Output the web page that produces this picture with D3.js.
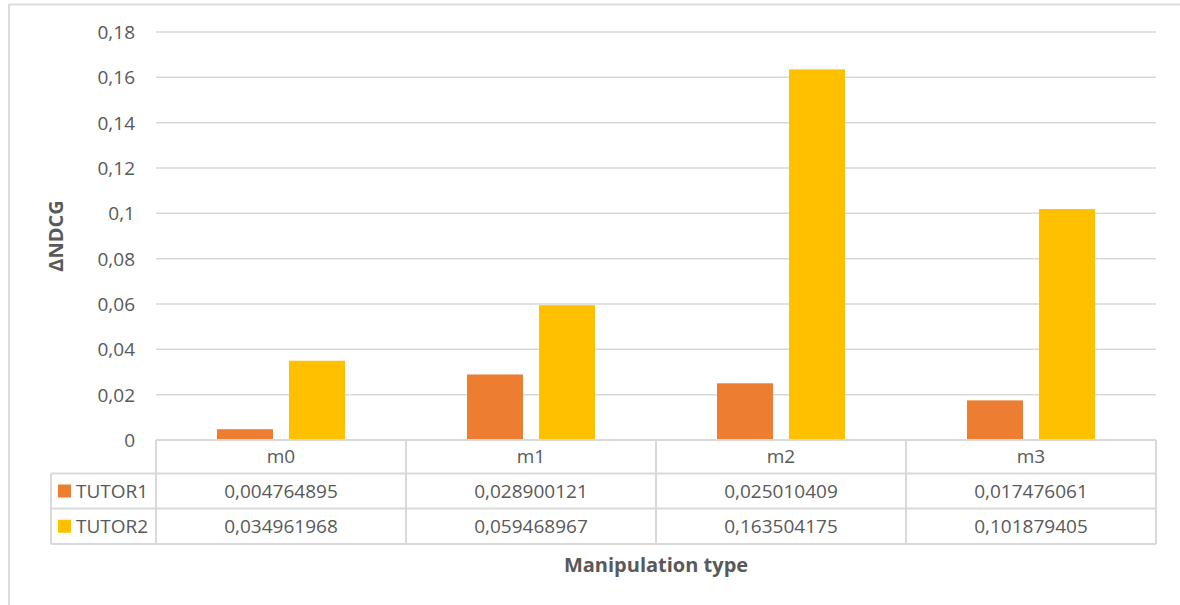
<!DOCTYPE html>
<html>
<head>
<meta charset="utf-8">
<script src="https://cdn.jsdelivr.net/npm/d3@7"></script>
<style>
  html, body { margin: 0; padding: 0; background: #fff; }
  svg { display: block; font-family: "Open Sans", "Liberation Sans", sans-serif; }
</style>
</head>
<body>
<svg id="chart" width="1180" height="605"></svg>
<script>
// Manipulation types on the x axis
const categories = ["m0", "m1", "m2", "m3"];
// Series names and their ΔNDCG values per manipulation type
const seriesNames = ["TUTOR1", "TUTOR2"];
const tutor1 = [0.004764895, 0.028900121, 0.025010409, 0.017476061];
const tutor2 = [0.034961968, 0.059468967, 0.163504175, 0.101879405];
const seriesValues = [tutor1, tutor2];
const seriesColors = ["#ED7D31", "#FFC000"];
const yTicks = [0, 0.02, 0.04, 0.06, 0.08, 0.1, 0.12, 0.14, 0.16, 0.18];
const yTitle = "ΔNDCG";
const xTitle = "Manipulation type";

const svg = d3.select("#chart");
const textColor = "#595959";
const gridColor = "#d9d9d9";

const plot = { left: 156, right: 1156, top: 32, bottom: 440 };
const tableLeft = 51;
const rowEdges = [440, 473.5, 508.5, 544];

// Outer chart frame (left and top edges visible)
svg.append("path")
  .attr("d", `M9,605 V4.5 H1180`)
  .attr("fill", "none")
  .attr("stroke", "#dcdcdc")
  .attr("stroke-width", 2);

const y = d3.scaleLinear().domain([0, 0.18]).range([plot.bottom, plot.top]);
const x0 = d3.scaleBand().domain(categories).range([plot.left, plot.right]).padding(0);
const x1 = d3.scaleBand().domain(seriesNames)
  .range([61, x0.bandwidth() - 61])
  .paddingInner(16 / 72).paddingOuter(0);

const fmt = v => String(+v.toFixed(2)).replace(".", ",");

// Horizontal gridlines
svg.append("g")
  .selectAll("line")
  .data(yTicks.filter(t => t > 0))
  .join("line")
  .attr("x1", plot.left).attr("x2", plot.right)
  .attr("y1", d => y(d)).attr("y2", d => y(d))
  .attr("stroke", gridColor).attr("stroke-width", 1.5);

// Y axis labels
const yAxis = d3.axisLeft(y).tickValues(yTicks).tickFormat(fmt).tickSize(0).tickPadding(0);
const yg = svg.append("g").attr("transform", `translate(135,0)`).call(yAxis);
yg.select(".domain").remove();
yg.selectAll("text")
  .attr("fill", textColor)
  .attr("font-size", 19)
  .attr("font-family", '"Open Sans", "Liberation Sans", sans-serif')
  .attr("dy", "0.35em");

// Bars
const groups = svg.append("g")
  .selectAll("g")
  .data(categories)
  .join("g")
  .attr("transform", d => `translate(${x0(d)},0)`);

groups.selectAll("rect")
  .data((c, i) => seriesNames.map((s, k) => ({ s, v: seriesValues[k][i], color: seriesColors[k] })))
  .join("rect")
  .attr("x", d => x1(d.s))
  .attr("width", x1.bandwidth())
  .attr("y", d => y(d.v))
  .attr("height", d => y(0) - y(d.v))
  .attr("fill", d => d.color);

// Data table under the plot
const table = svg.append("g")
  .attr("fill", "none")
  .attr("stroke", gridColor)
  .attr("stroke-width", 2);

// Horizontal rules
table.append("line")
  .attr("x1", plot.left).attr("x2", plot.right)
  .attr("y1", rowEdges[0]).attr("y2", rowEdges[0]);
rowEdges.slice(1).forEach(ry => {
  table.append("line")
    .attr("x1", tableLeft).attr("x2", plot.right)
    .attr("y1", ry).attr("y2", ry);
});
// Vertical rules
table.append("line")
  .attr("x1", tableLeft).attr("x2", tableLeft)
  .attr("y1", rowEdges[1]).attr("y2", rowEdges[3]);
categories.concat([null]).forEach((c, i) => {
  const xx = c === null ? plot.right : x0(c);
  table.append("line")
    .attr("x1", xx).attr("x2", xx)
    .attr("y1", rowEdges[0]).attr("y2", rowEdges[3]);
});

const tableText = svg.append("g")
  .attr("fill", textColor)
  .attr("font-size", 19)
  .attr("text-anchor", "middle");

// Header row: category names
tableText.selectAll("text.cat")
  .data(categories)
  .join("text")
  .attr("class", "cat")
  .attr("x", d => x0(d) + x0.bandwidth() / 2)
  .attr("y", (rowEdges[0] + rowEdges[1]) / 2)
  .attr("dy", "0.35em")
  .text(d => d);

// Value rows with legend keys
seriesNames.forEach((s, k) => {
  const cy = (rowEdges[k + 1] + rowEdges[k + 2]) / 2;
  svg.append("rect")
    .attr("x", 58).attr("y", cy - 6.5)
    .attr("width", 13).attr("height", 13)
    .attr("fill", seriesColors[k]);
  svg.append("text")
    .attr("x", 76).attr("y", cy)
    .attr("dy", "0.35em")
    .attr("fill", textColor)
    .attr("font-size", 19)
    .text(s);
  tableText.selectAll(null)
    .data(categories)
    .join("text")
    .attr("x", d => x0(d) + x0.bandwidth() / 2)
    .attr("y", cy)
    .attr("dy", "0.35em")
    .text((d, i) => String(seriesValues[k][i]).replace(".", ","));
});

// Axis titles
svg.append("text")
  .attr("x", (plot.left + plot.right) / 2)
  .attr("y", 572)
  .attr("text-anchor", "middle")
  .attr("fill", textColor)
  .attr("font-size", 20)
  .attr("font-weight", "bold")
  .text(xTitle);

svg.append("text")
  .attr("transform", `translate(63,${(plot.top + plot.bottom) / 2}) rotate(-90)`)
  .attr("text-anchor", "middle")
  .attr("fill", textColor)
  .attr("font-size", 20)
  .attr("font-weight", "bold")
  .text(yTitle);
</script>
</body>
</html>
